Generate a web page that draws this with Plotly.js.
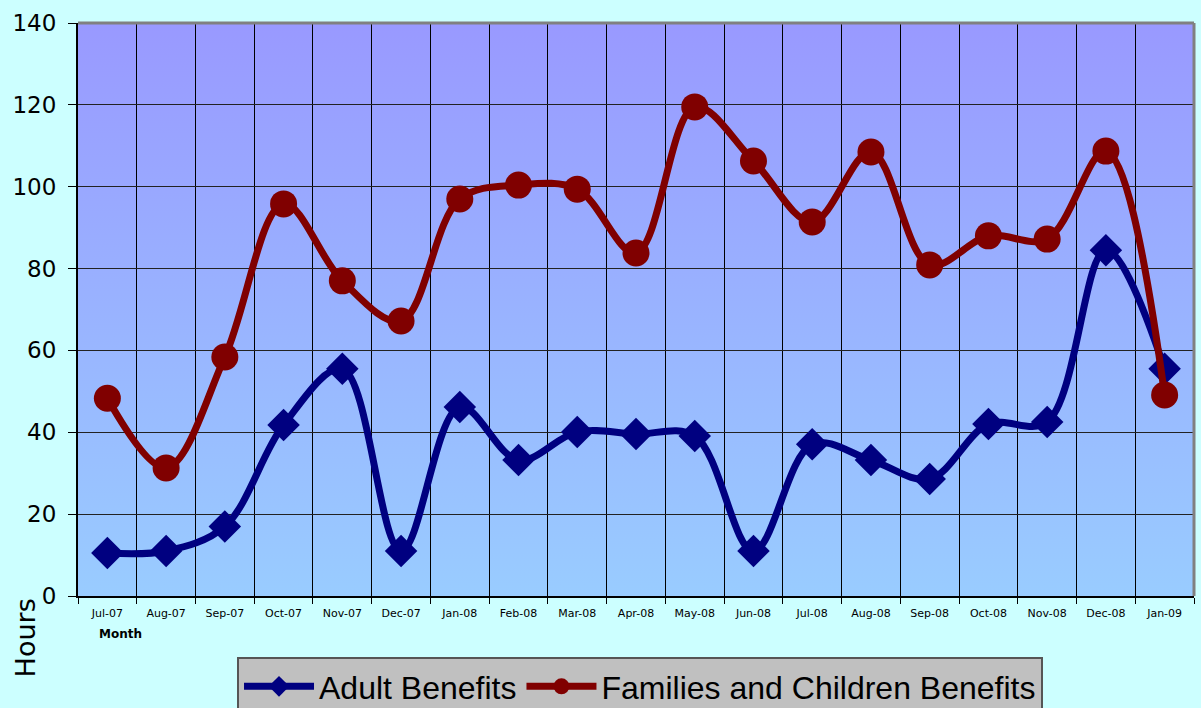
<!DOCTYPE html>
<html>
<head>
<meta charset="utf-8">
<script src="https://cdn.plot.ly/plotly-3.0.1.min.js"></script>
<style>
  html, body { margin: 0; padding: 0; background: #ccffff; }
  #wrap { position: relative; width: 1201px; height: 708px; overflow: hidden; }
  #grad { position: absolute; left: 78px; top: 23px; width: 1116px; height: 573px;
          background: linear-gradient(to bottom, #9999ff 0%, #99ccff 100%); }
  #chart { position: absolute; left: 0; top: 0; width: 1201px; height: 708px; }
</style>
</head>
<body>
<div id="wrap">
  <div id="grad"></div>
  <div id="chart"></div>
</div>
<script>
const months = ["Jul-07","Aug-07","Sep-07","Oct-07","Nov-07","Dec-07","Jan-08","Feb-08","Mar-08","Apr-08",
                "May-08","Jun-08","Jul-08","Aug-08","Sep-08","Oct-08","Nov-08","Dec-08","Jan-09"];
const adultBenefits = [10.5, 11, 17, 41.8, 55.5, 11, 46.2, 33.2, 40.1, 39.6, 39.1, 11, 37.1, 33.2, 28.6, 42, 42.5, 84.5, 55.5];
const familiesChildrenBenefits = [48.3, 31.3, 58.4, 95.8, 77, 67.2, 97, 100.4, 99.4, 83.8, 119.5, 106.3, 91.4, 108.5, 80.9, 88, 87.2, 108.7, 49.1];
const yTicks = [0, 20, 40, 60, 80, 100, 120, 140];

const traces = [
  {
    x: months, y: adultBenefits, name: "Adult Benefits", type: "scatter", mode: "lines+markers",
    line: { color: "#000080", width: 7, shape: "spline", smoothing: 1 },
    marker: { symbol: "diamond", size: 25, color: "#000080" }
  },
  {
    x: months, y: familiesChildrenBenefits, name: "Families and Children Benefits", type: "scatter", mode: "lines+markers",
    line: { color: "#800000", width: 7, shape: "spline", smoothing: 1 },
    marker: { symbol: "circle", size: 27, color: "#800000" }
  }
];

const layout = {
  width: 1201, height: 708,
  paper_bgcolor: "rgba(0,0,0,0)",
  plot_bgcolor: "rgba(0,0,0,0)",
  margin: { l: 78, r: 7, t: 23, b: 112, pad: 0, autoexpand: false },
  showlegend: true,
  xaxis: {
    type: "category", categoryarray: months,
    tickson: "boundaries", ticks: "outside", ticklen: 6, tickcolor: "#000", tickwidth: 1,
    showgrid: true, gridcolor: "#000", gridwidth: 1,
    showline: true, linecolor: "#000", linewidth: 2,
    tickfont: { family: "DejaVu Sans, Verdana, sans-serif", size: 11, color: "#000" },
    ticklabelstandoff: 6,
    range: [-0.5, 18.5], fixedrange: true, automargin: false
  },
  yaxis: {
    range: [0, 140], tickvals: yTicks, ticktext: yTicks.map(String),
    ticks: "outside", ticklen: 8, tickcolor: "#000", tickwidth: 1,
    showgrid: true, gridcolor: "#222", gridwidth: 1,
    showline: true, linecolor: "#000", linewidth: 2,
    zeroline: false,
    tickfont: { family: "DejaVu Sans, Verdana, sans-serif", size: 23, color: "#000" },
    ticklabelstandoff: 7, fixedrange: true, automargin: false
  },
  shapes: [
    { type: "line", xref: "paper", yref: "paper", x0: 0, x1: 1, y0: 1, y1: 1, line: { color: "#808080", width: 3 } },
    { type: "line", xref: "paper", yref: "paper", x0: 1, x1: 1, y0: 0, y1: 1, line: { color: "#808080", width: 3 } }
  ],
  annotations: [
    { text: "Month", xref: "paper", yref: "paper", x: 0.0385, y: -0.0663, xanchor: "center", yanchor: "middle",
      showarrow: false, font: { family: "DejaVu Sans, Verdana, sans-serif", size: 12, color: "#000", weight: "bold" } },
    { text: "Hours", xref: "paper", yref: "paper", x: -0.047, y: -0.073, xanchor: "center", yanchor: "middle",
      textangle: -90, showarrow: false, font: { family: "DejaVu Sans, Verdana, sans-serif", size: 27, color: "#000" } }
  ],
  legend: {
    orientation: "h", x: 0.5036, xanchor: "center", xref: "paper",
    y: 0.072, yanchor: "top", yref: "container",
    bgcolor: "#c0c0c0", bordercolor: "#555", borderwidth: 2,
    font: { family: "Liberation Sans, Arial, sans-serif", size: 32, color: "#000" },
    itemwidth: 70, tracegroupgap: 0
  }
};

Plotly.newPlot("chart", traces, layout, { displayModeBar: false, staticPlot: true });
</script>
</body>
</html>
